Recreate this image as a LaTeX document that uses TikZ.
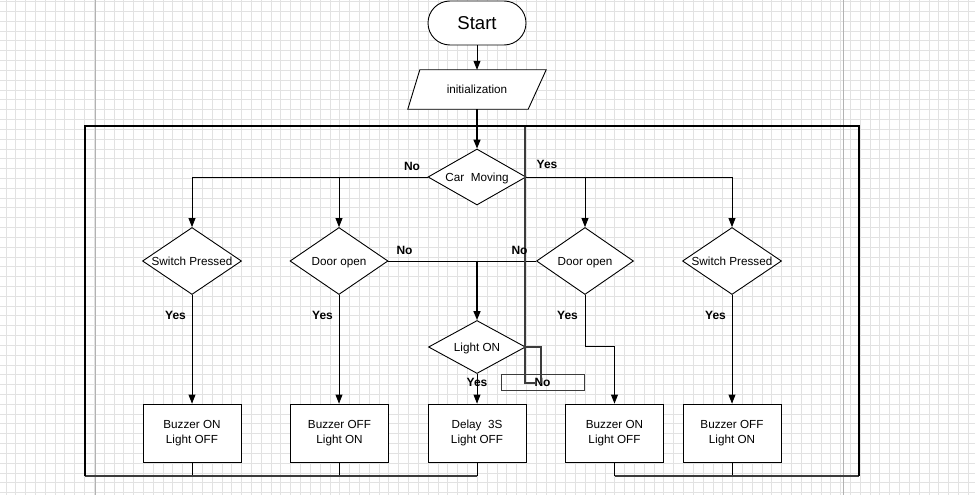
\documentclass[tikz,border=0pt]{standalone}
\usepackage{fontspec}
\setmainfont{Liberation Sans}
\usetikzlibrary{shapes.geometric,arrows.meta,calc}

\definecolor{gridgray}{HTML}{E2E2E2}
\definecolor{pagegray}{HTML}{B2B2B2}
\definecolor{linegray}{HTML}{3C3C3C}

\begin{document}
\begin{tikzpicture}[x=1pt,y=-1pt,
  gridline/.style={draw=gridgray, line width=1pt},
  pageline/.style={draw=pagegray, line width=1pt},
  txt/.style={font=\fontsize{11.7}{14}\selectfont, inner sep=0pt,
    text height=8.4pt, text depth=0pt},
  yn/.style={font=\fontsize{12}{14}\selectfont\bfseries, inner sep=0pt,
    text height=8.6pt, text depth=0pt},
  terminal/.style={draw, fill=white, line width=0.9pt, rounded corners=22pt,
    minimum width=98pt, minimum height=44pt, inner sep=0pt,
    font=\fontsize{18.6}{20}\selectfont},
  decision/.style={diamond, draw, fill=white, line width=0.9pt, inner sep=0pt},
  process/.style={draw, fill=white, line width=0.9pt, minimum width=98pt,
    minimum height=58pt, inner sep=0pt, align=center,
    font=\fontsize{11.7}{14.3}\selectfont},
  conn/.style={draw=black, line width=0.9pt},
  thick conn/.style={draw=black, line width=1.6pt},
  flow/.style={-{Triangle[width=7pt,length=9pt]}},
  frame/.style={draw=black, line width=1.2pt},
  bottomline/.style={draw=linegray, line width=1.5pt},
  retline/.style={draw=linegray, line width=1.2pt},
]
\useasboundingbox (0,0) rectangle (975,495);
\fill[white] (0,0) rectangle (975,495);

% background grid and page borders
\foreach \i in {0,...,98} \draw[gridline] ({6+9.82*\i},0) -- ({6+9.82*\i},495);
\foreach \j in {0,...,50} \draw[gridline] (0,{1.7+9.82*\j}) -- (975,{1.7+9.82*\j});
\draw[pageline] (95,0) -- (95,495);
\draw[pageline] (843,0) -- (843,495);

% loop frame corners
\coordinate (ftl) at (85,126);
\coordinate (ftr) at (859,126);
\coordinate (fbl) at (85,476);
\coordinate (fbr) at (859,476);
\coordinate (ret) at (525,126);
\coordinate (retend) at (535,383);

% start and initialization
\node[terminal] (start) at (477,23) {Start};
\node[minimum width=138pt, minimum height=39pt, inner sep=0pt] (init) at (477,89.5) {};
\draw[fill=white, line width=0.9pt]
  ($(init.north west)+(12,0)$) -- (init.north east)
  -- ($(init.south east)+(-18,0)$) -- (init.south west) -- cycle;
\node[txt] (initt) at (init.center) {initialization};

% decisions
\node[decision, minimum width=98pt, minimum height=56pt] (car) at (477,177) {};
\node[txt] (cart) at (car.center) {Car\ \ Moving};
\node[decision, minimum width=99pt, minimum height=67pt] (sw1) at (192,261) {};
\node[txt] (sw1t) at (sw1.center) {Switch Pressed};
\node[decision, minimum width=98pt, minimum height=67pt] (do1) at (339,261) {};
\node[txt] (do1t) at (do1.center) {Door open};
\node[decision, minimum width=97pt, minimum height=67pt] (do2) at (585,261) {};
\node[txt] (do2t) at (do2.center) {Door open};
\node[decision, minimum width=99pt, minimum height=67pt] (sw2) at (732,261) {};
\node[txt] (sw2t) at (sw2.center) {Switch Pressed};
\node[decision, minimum width=97pt, minimum height=53pt] (light) at (477,347) {};
\node[txt] (lightt) at (light.center) {Light ON};

% actions
\node[process] (b1) at (192,433) {Buzzer ON\\Light OFF};
\node[process] (b2) at (339.5,433) {Buzzer OFF\\Light ON};
\node[process] (b3) at (477,433) {Delay\ \ 3S\\Light OFF};
\node[process] (b4) at (614.5,433) {Buzzer ON\\Light OFF};
\node[process] (b5) at (732,433) {Buzzer OFF\\Light ON};

% connectors
\draw[conn, flow] (start.south) -- (init.north -| start.south);
\draw[thick conn, flow] (init.south -| car.north) -- (car.north);
\draw[conn, flow] (car.west) -| (sw1.north);
\draw[conn, flow] (car.west) -| (do1.north);
\draw[conn, flow] (car.east) -| (do2.north);
\draw[conn, flow] (car.east) -| (sw2.north);
\draw[conn, flow] (sw1.south) -- (b1.north);
\draw[conn, flow] (do1.south) -- (do1.south |- b2.north);
\draw[conn, flow] (sw2.south) -- (b5.north);
\draw[conn] (do1.east) -- (do2.west);
\draw[thick conn, flow] (do1.east -| light.north) -- (light.north);
\draw[conn, flow] (light.south) -- (b3.north);
\draw[conn, flow] (do2.south) -- ++(0,51) -| (b4.north);

% Light ON "No" branch and the loop back to the top
\node[draw=linegray, line width=0.9pt, minimum width=83pt, minimum height=16pt,
  inner sep=0pt, font=\fontsize{12}{14}\selectfont\bfseries] (nobox) at (542.5,382) {No};
\draw[retline] (light.east) -- ++(15,0) -- ++(0,36);
\draw[retline] (retend) -- (ret |- retend) -- (ret);

% frame of the main loop
\draw[conn] (b1.south) -- (b1.south |- fbl);
\draw[conn] (b2.south) -- (b2.south |- fbl);
\draw[conn] (b3.south) -- (b3.south |- fbl);
\draw[conn] (b4.south) -- (b4.south |- fbr);
\draw[conn] (b5.south) -- (b5.south |- fbr);
\draw[bottomline] (b3.south |- fbl) -- (fbl);
\draw[bottomline] (b4.south |- fbr) -- (fbr);
\draw[frame] (fbl) -- (ftl) -- (ftr) -- (fbr);

% branch labels
\node[yn] (ncar) at (412,166.5) {No};
\node[yn] (ycar) at (547,164) {Yes};
\node[yn] (ndo1) at (404.5,250) {No};
\node[yn] (ndo2) at (519.5,250) {No};
\node[yn] (ysw1) at (175.5,315.5) {Yes};
\node[yn] (ydo1) at (322.5,315.5) {Yes};
\node[yn] (ydo2) at (567.5,315.5) {Yes};
\node[yn] (ysw2) at (715.5,315.5) {Yes};
\node[yn] (ylight) at (477,382.5) {Yes};
\end{tikzpicture}
\end{document}
